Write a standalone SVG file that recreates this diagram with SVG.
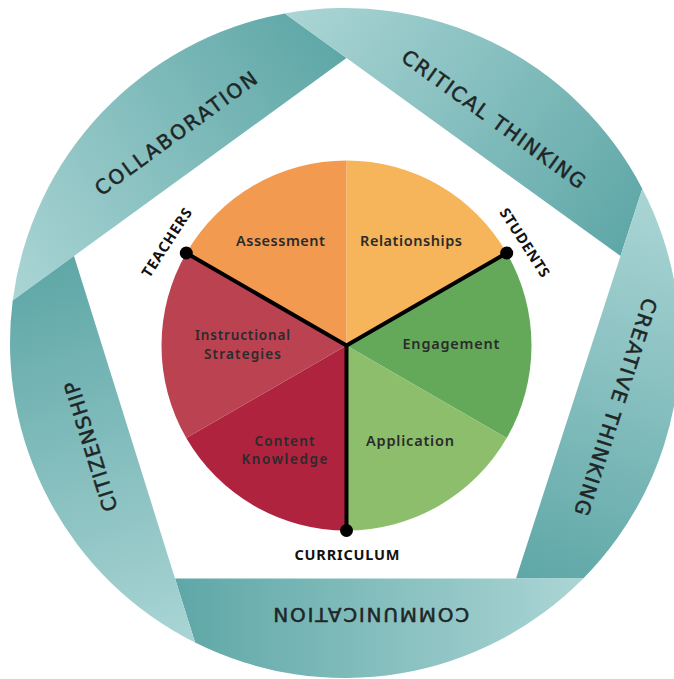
<svg xmlns="http://www.w3.org/2000/svg" width="674" height="679" viewBox="0 0 674 679">
<defs>
<linearGradient id="gCollab" gradientUnits="userSpaceOnUse" x1="12.7" y1="300.5" x2="346.5" y2="58"><stop offset="0" stop-color="#ABD5D5"/><stop offset="1" stop-color="#5FA7A7"/></linearGradient>
<linearGradient id="gCrit" gradientUnits="userSpaceOnUse" x1="284.8" y1="13.45" x2="620.5" y2="256"><stop offset="0" stop-color="#ABD5D5"/><stop offset="1" stop-color="#5FA7A7"/></linearGradient>
<linearGradient id="gCreat" gradientUnits="userSpaceOnUse" x1="642.3" y1="188.65" x2="516" y2="578.5"><stop offset="0" stop-color="#ABD5D5"/><stop offset="1" stop-color="#5FA7A7"/></linearGradient>
<linearGradient id="gComm" gradientUnits="userSpaceOnUse" x1="583.25" y1="578.5" x2="175" y2="578.5"><stop offset="0" stop-color="#ABD5D5"/><stop offset="1" stop-color="#5FA7A7"/></linearGradient>
<linearGradient id="gCitiz" gradientUnits="userSpaceOnUse" x1="195.1" y1="642.6" x2="74" y2="256"><stop offset="0" stop-color="#ABD5D5"/><stop offset="1" stop-color="#5FA7A7"/></linearGradient>
</defs>
<style>
.band-text{font-family:"DejaVu Sans",sans-serif;font-size:20px;fill:#1e2626;stroke:#1e2626;stroke-width:0.5;text-anchor:middle}
.pie-text{font-family:"Noto Sans",sans-serif;font-weight:600;font-size:14.5px;fill:#2b2b2b;text-anchor:middle}
.pie-text2{font-family:"Noto Sans",sans-serif;font-weight:600;font-size:13.5px;fill:#2b2b2b;text-anchor:middle}
.role{font-family:"Noto Sans",sans-serif;font-weight:700;font-size:14.5px;fill:#111;text-anchor:middle}
.spoke{stroke:#000;stroke-width:4;fill:none;stroke-linecap:round}
.dot{fill:#000}
</style>
<rect width="674" height="679" fill="#fff"/>

<g id="band-collaboration">
<path d="M12.7,300.5 L74,256 L346.5,58 L284.8,13.45 A335,335 0 0 0 12.7,300.5 Z" fill="url(#gCollab)"/>
<text class="band-text" transform="translate(175.8,133.3) rotate(-36)" y="7.2" textLength="195" lengthAdjust="spacing">COLLABORATION</text>
</g>
<g id="band-critical-thinking">
<path d="M284.8,13.45 L346.5,58 L620.5,256 L642.3,188.65 A335,335 0 0 0 284.8,13.45 Z" fill="url(#gCrit)"/>
<text class="band-text" transform="translate(493.8,119) rotate(35.85)" y="7.2" textLength="221" lengthAdjust="spacing">CRITICAL THINKING</text>
</g>
<g id="band-creative-thinking">
<path d="M642.3,188.65 L620.5,256 L516,578.5 L583.25,578.5 A335,335 0 0 0 642.3,188.65 Z" fill="url(#gCreat)"/>
<text class="band-text" transform="translate(615.8,407) rotate(107.95)" y="7.2" textLength="227" lengthAdjust="spacing">CREATIVE THINKING</text>
</g>
<g id="band-communication">
<path d="M583.25,578.5 L516,578.5 L175,578.5 L195.1,642.6 A335,335 0 0 0 583.25,578.5 Z" fill="url(#gComm)"/>
<text class="band-text" transform="translate(371.3,615) rotate(180)" y="7.2" textLength="196" lengthAdjust="spacing">COMMUNICATION</text>
</g>
<g id="band-citizenship">
<path d="M195.1,642.6 L175,578.5 L74,256 L12.7,300.5 A335,335 0 0 0 195.1,642.6 Z" fill="url(#gCitiz)"/>
<text class="band-text" transform="translate(90.8,446.5) rotate(-107.4)" y="7.2" textLength="135" lengthAdjust="spacing">CITIZENSHIP</text>
</g>

<g id="slice-relationships">
<path d="M346.5,345.5 L346.5,160.5 A185,185 0 0 1 506.71,253 Z" fill="#F6B55B"/>
<text class="pie-text" x="411" y="245.5" textLength="102" lengthAdjust="spacing">Relationships</text>
</g>
<g id="slice-engagement">
<path d="M346.5,345.5 L506.71,253 A185,185 0 0 1 506.71,438 Z" fill="#64A95A"/>
<text class="pie-text" x="451" y="349" textLength="97" lengthAdjust="spacing">Engagement</text>
</g>
<g id="slice-application">
<path d="M346.5,345.5 L506.71,438 A185,185 0 0 1 346.5,530.5 Z" fill="#8CBE6B"/>
<text class="pie-text" x="410" y="446" textLength="88" lengthAdjust="spacing">Application</text>
</g>
<g id="slice-content-knowledge">
<path d="M346.5,345.5 L346.5,530.5 A185,185 0 0 1 186.29,438 Z" fill="#AF233F"/>
<text class="pie-text2" x="284.4" y="445.5" textLength="60" lengthAdjust="spacing">Content</text>
<text class="pie-text2" x="284.5" y="464" textLength="86" lengthAdjust="spacing">Knowledge</text>
</g>
<g id="slice-instructional-strategies">
<path d="M346.5,345.5 L186.29,438 A185,185 0 0 1 186.29,253 Z" fill="#BB4250"/>
<text class="pie-text2" x="242.5" y="340" textLength="95" lengthAdjust="spacing">Instructional</text>
<text class="pie-text2" x="242.5" y="358.5" textLength="77" lengthAdjust="spacing">Strategies</text>
</g>
<g id="slice-assessment">
<path d="M346.5,345.5 L186.29,253 A185,185 0 0 1 346.5,160.5 Z" fill="#F39A51"/>
<text class="pie-text" x="280.5" y="245.5" textLength="89" lengthAdjust="spacing">Assessment</text>
</g>

<g id="connectors">
<line class="spoke" x1="346.5" y1="345.5" x2="186.29" y2="253"/>
<line class="spoke" x1="346.5" y1="345.5" x2="506.71" y2="253"/>
<line class="spoke" x1="346.5" y1="345.5" x2="346.5" y2="530.5"/>
</g>

<g id="node-teachers">
<circle class="dot" cx="186.29" cy="253" r="6.5"/>
<text class="role" transform="translate(166.7,242.5) rotate(-57)" y="5.2" textLength="79" lengthAdjust="spacing">TEACHERS</text>
</g>
<g id="node-students">
<circle class="dot" cx="506.71" cy="253" r="6.5"/>
<text class="role" transform="translate(524.8,242.5) rotate(57)" y="5.2" textLength="79" lengthAdjust="spacing">STUDENTS</text>
</g>
<g id="node-curriculum">
<circle class="dot" cx="346.5" cy="530.5" r="6.5"/>
<text class="role" x="347" y="560" textLength="105" lengthAdjust="spacing">CURRICULUM</text>
</g>
</svg>
